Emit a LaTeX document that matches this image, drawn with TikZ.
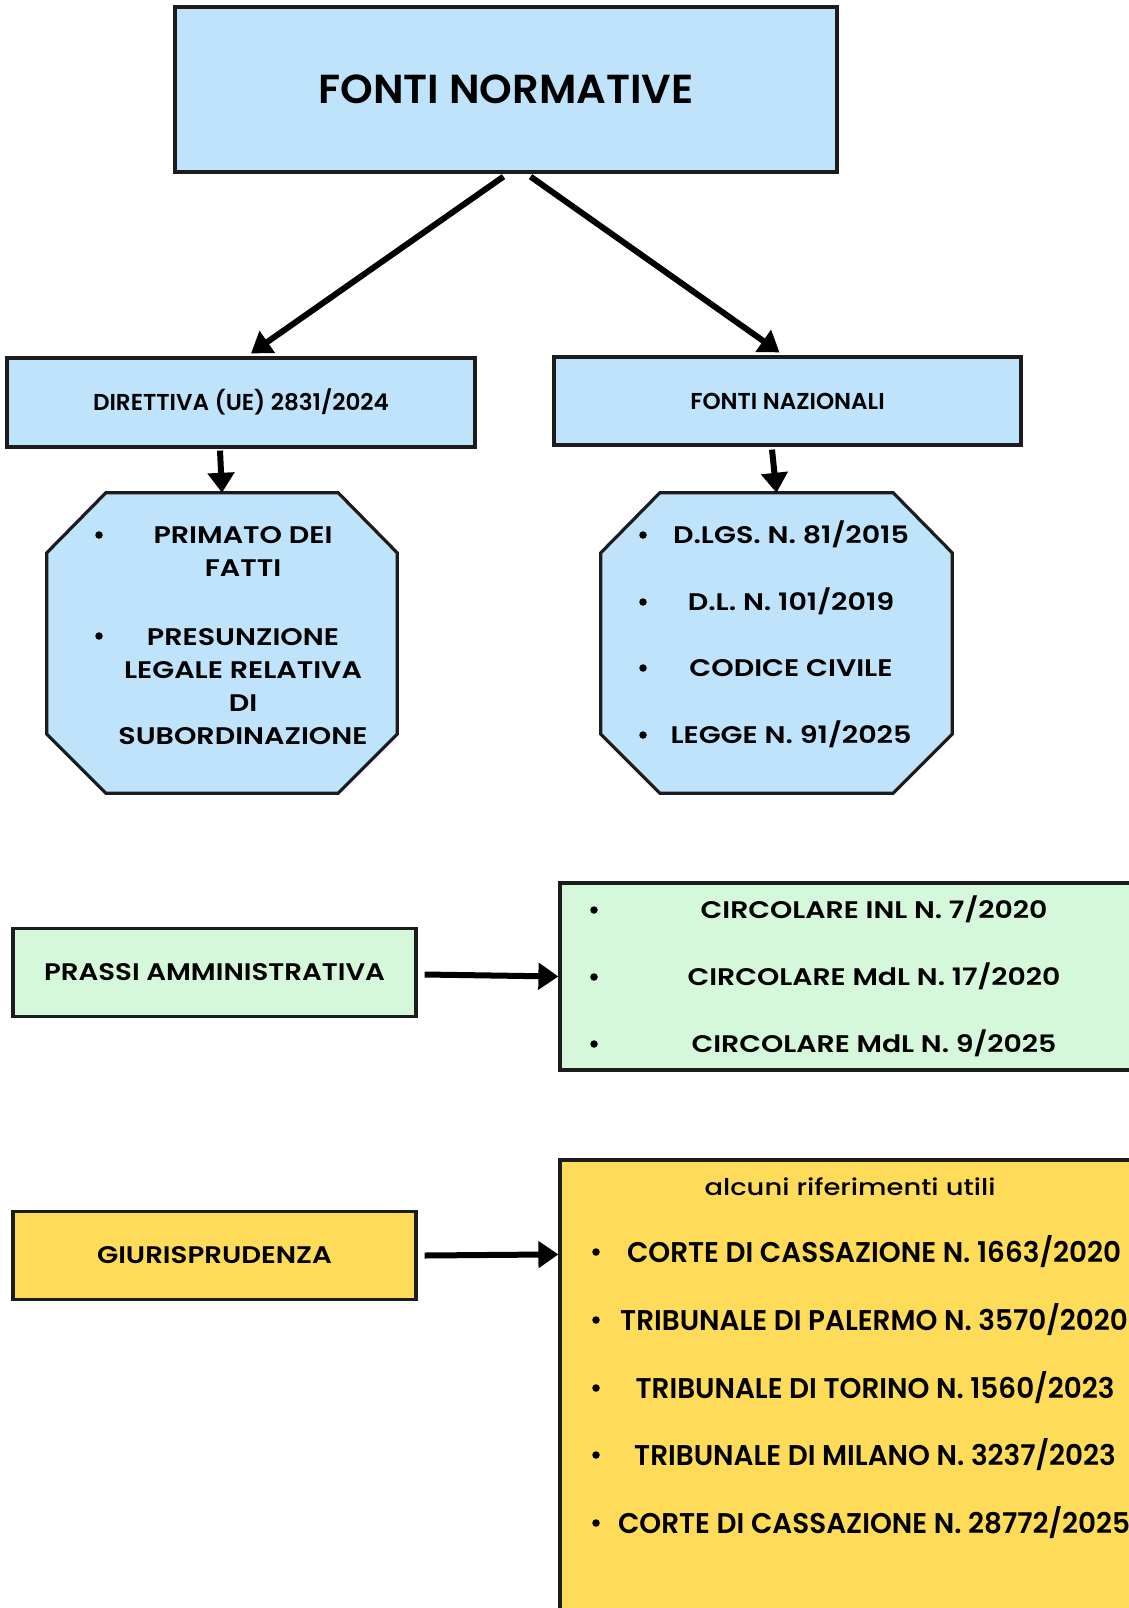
\documentclass[tikz,border=0pt]{standalone}
\usepackage{fontspec}
\usepackage{graphicx}
\usetikzlibrary{arrows.meta,calc}
\setmainfont{Poppins}
\newfontfamily\semif{Poppins SemiBold}
\newfontfamily\medf{Poppins Medium}
\newdimen\fitdim
\newcommand\mkratio[3]{\setbox0=\hbox{#3}\fitdim=\wd0\relax\pgfmathsetmacro#1{#2/\fitdim}}
\newcommand\tx[2]{\scalebox{#1}[1]{#2}}
\newcommand\ftitle{\semif\fontsize{40.5}{48}\selectfont}
\newcommand\fblue{\semif\fontsize{23}{28}\selectfont}
\newcommand\foct{\semif\fontsize{24}{29}\selectfont}
\newcommand\fgreen{\semif\fontsize{24}{29}\selectfont}
\newcommand\fside{\semif\fontsize{24}{29}\selectfont}
\newcommand\fyel{\semif\fontsize{28.5}{34}\selectfont}
\newcommand\fyelsm{\medf\fontsize{23}{28}\selectfont}
\definecolor{bluef}{RGB}{190,227,250}
\definecolor{greenf}{RGB}{213,248,219}
\definecolor{yellowf}{RGB}{254,220,90}
\definecolor{edge}{RGB}{28,28,28}
\tikzset{
  boxbase/.style={draw=edge,line width=3.2pt,inner sep=0pt,text depth=0pt},
  bluebox/.style={boxbase,fill=bluef},
  greenbox/.style={boxbase,fill=greenf},
  yellowbox/.style={boxbase,fill=yellowf},
  holder/.style={inner sep=0pt,draw=none},
  octs/.style={draw=edge,line width=3.2pt,fill=bluef,line join=miter},
  lbl/.style={inner sep=0pt,text depth=0pt,anchor=center},
  bul/.style={circle,fill=black,inner sep=0pt,minimum size=7.5pt},
  arr/.style={line width=6pt,-{Triangle[length=20pt,width=26pt]}},
}
\newcommand\octagon[1]{%
  \draw[octs] ($(#1.north west)+(59,0)$) -- ($(#1.north east)+(-59,0)$)
    -- ($(#1.north east)+(0,60)$) -- ($(#1.south east)+(0,-59)$)
    -- ($(#1.south east)+(-59,0)$) -- ($(#1.south west)+(59,0)$)
    -- ($(#1.south west)+(0,-59)$) -- ($(#1.north west)+(0,60)$) -- cycle;}
\begin{document}
\mkratio\rT{375}{\ftitle FONTI NORMATIVE}%
\mkratio\rB{296}{\fblue DIRETTIVA (UE) 2831/2024}%
\mkratio\rO{241}{\foct LEGGE N. 91/2025}%
\mkratio\rG{373}{\fgreen CIRCOLARE MdL N. 17/2020}%
\mkratio\rS{341}{\fside PRASSI AMMINISTRATIVA}%
\mkratio\rY{494}{\fyel CORTE DI CASSAZIONE N. 1663/2020}%
\mkratio\rL{291}{\fyelsm alcuni riferimenti utili}%
\begin{tikzpicture}[x=1pt,y=-1pt]
\useasboundingbox (0,0) rectangle (1129,1608);
\fill[white] (0,0) rectangle (1129,1608);
\clip (0,0) rectangle (1129,1608);

% top
\node[bluebox,minimum width=662pt,minimum height=165pt,font=\ftitle,text height=28.5pt] (top) at (506,89.5) {\tx\rT{FONTI NORMATIVE}};
% second level
\node[bluebox,minimum width=468pt,minimum height=89pt,font=\fblue,text height=16pt] (dir) at (241,402.5) {\tx\rB{DIRETTIVA (UE) 2831/2024}};
\node[bluebox,minimum width=467pt,minimum height=88pt,font=\fblue,text height=16pt] (naz) at (787.5,401) {\tx\rB{FONTI NAZIONALI}};
% octagons
\node[holder,minimum width=350pt,minimum height=300pt] (oct1) at (222,643) {};
\node[holder,minimum width=351pt,minimum height=300pt] (oct2) at (776.5,643) {};
\octagon{oct1}
\octagon{oct2}
\begin{scope}[every node/.style={lbl,font=\foct,text height=16.8pt}]
\node (l1a) at (243,535) {\tx\rO{PRIMATO DEI}};
\node (l1b) at (243,568) {\tx\rO{FATTI}};
\node (l2a) at (243,637) {\tx\rO{PRESUNZIONE}};
\node (l2b) at (243,670) {\tx\rO{LEGALE RELATIVA}};
\node (l2c) at (243,703) {\tx\rO{DI}};
\node (l2d) at (243,736) {\tx\rO{SUBORDINAZIONE}};
\node (r1) at (791,535) {\tx\rO{D.LGS. N. 81/2015}};
\node (r2) at (791,602) {\tx\rO{D.L. N. 101/2019}};
\node (r3) at (791,668) {\tx\rO{CODICE CIVILE}};
\node (r4) at (791,735) {\tx\rO{LEGGE N. 91/2025}};
\end{scope}
\node[bul] (bl1) at (99,535) {};
\node[bul] (bl2) at (99,636) {};
\node[bul] (br1) at (643,535) {};
\node[bul] (br2) at (643,602) {};
\node[bul] (br3) at (643,668) {};
\node[bul] (br4) at (643,735) {};

% prassi
\node[greenbox,minimum width=403pt,minimum height=88pt,font=\fside,text height=16.8pt] (prassi) at (214.5,972.5) {\tx\rS{PRASSI AMMINISTRATIVA}};
\node[greenbox,minimum width=600pt,minimum height=187pt] (circ) at (860,976.5) {};
\begin{scope}[every node/.style={lbl,font=\fgreen,text height=16.8pt}]
\node (c1) at (874,910) {\tx\rG{CIRCOLARE INL N. 7/2020}};
\node (c2) at (874,977) {\tx\rG{CIRCOLARE MdL N. 17/2020}};
\node (c3) at (874,1044) {\tx\rG{CIRCOLARE MdL N. 9/2025}};
\end{scope}
\node[bul] (bc1) at (594,910) {};
\node[bul] (bc2) at (594,977) {};
\node[bul] (bc3) at (594,1044) {};

% giurisprudenza
\node[yellowbox,minimum width=403pt,minimum height=88pt,font=\fside,text height=16.8pt] (giur) at (214.5,1255.5) {\tx\rS{GIURISPRUDENZA}};
\node[yellowbox,minimum width=600pt,minimum height=480pt] (rif) at (860,1400) {};
\node[lbl,font=\fyelsm,text height=17pt] (rh) at (850,1187) {\tx\rL{alcuni riferimenti utili}};
\begin{scope}[every node/.style={lbl,font=\fyel,text height=20pt}]
\node (y1) at (874,1252) {\tx\rY{CORTE DI CASSAZIONE N. 1663/2020}};
\node (y2) at (874,1320) {\tx\rY{TRIBUNALE DI PALERMO N. 3570/2020}};
\node (y3) at (875,1388) {\tx\rY{TRIBUNALE DI TORINO N. 1560/2023}};
\node (y4) at (875,1455) {\tx\rY{TRIBUNALE DI MILANO N. 3237/2023}};
\node (y5) at (874,1523) {\tx\rY{CORTE DI CASSAZIONE N. 28772/2025}};
\end{scope}
\node[bul] (by1) at (596,1252) {};
\node[bul] (by2) at (596,1320) {};
\node[bul] (by3) at (596,1388) {};
\node[bul] (by4) at (596,1455) {};
\node[bul] (by5) at (596,1523) {};

% connectors
\draw[arr] ([xshift=-2.5pt,yshift=-3pt]top.south) -- ([xshift=10pt,yshift=3pt]dir.north);
\draw[arr] ([xshift=24.5pt,yshift=-3pt]top.south) -- ([xshift=-8pt,yshift=3pt]naz.north);
\draw[arr] ([xshift=-21pt,yshift=-2pt]dir.south) -- (oct1.north);
\draw[arr] ([xshift=-15.5pt,yshift=-3pt]naz.south) -- (oct2.north);
\draw[arr] ([xshift=7pt,yshift=-2pt]prassi.east) -- (circ.west);
\draw[arr] ([xshift=7pt]giur.east) -- ([yshift=-96pt]rif.north west);
\end{tikzpicture}
\end{document}
